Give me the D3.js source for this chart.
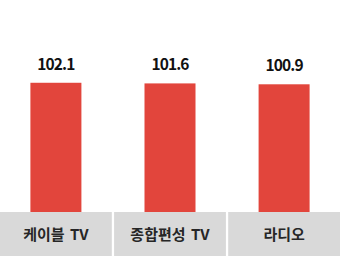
<!DOCTYPE html>
<html>
<head>
<meta charset="utf-8">
<script src="https://cdn.jsdelivr.net/npm/d3@7"></script>
<style>
  body { margin: 0; background: #fff; }
</style>
</head>
<body>
<svg id="chart" width="341" height="259"></svg>
<script>
const categories = ['케이블 TV', '종합편성 TV', '라디오']
const values = [102.1, 101.6, 100.9]

const width = 341
const height = 259
const baseY = 212 // bar baseline / top of the category boxes
const boxHeight = 44

const svg = d3.select('#chart')

// band scale for the category boxes (2px gap between boxes)
const x = d3.scaleBand()
  .domain(categories)
  .range([0, 340])
  .paddingInner(0.02)

const y = d3.scaleLinear()
  .domain([0, 167.5])
  .range([baseY, 0])

const fontFamily = '"Noto Sans CJK KR", "Noto Sans", sans-serif'

// category boxes
svg.append('g')
  .selectAll('rect')
  .data(categories)
  .join('rect')
  .attr('x', (d) => x(d))
  .attr('y', baseY)
  .attr('width', x.bandwidth())
  .attr('height', boxHeight)
  .attr('fill', '#d9d9d9')

svg.append('g')
  .selectAll('text')
  .data(categories)
  .join('text')
  .attr('x', (d) => x(d) + x.bandwidth() / 2)
  .attr('y', baseY + boxHeight / 2 + 5.5)
  .attr('text-anchor', 'middle')
  .attr('font-family', fontFamily)
  .attr('font-size', 15)
  .attr('font-weight', 'bold')
  .attr('word-spacing', 2)
  .attr('fill', '#262626')
  .text((d) => d)

// bars
const barWidth = 51
svg.append('g')
  .selectAll('rect')
  .data(values)
  .join('rect')
  .attr('x', (d, i) => x(categories[i]) + x.bandwidth() / 2 - barWidth / 2)
  .attr('y', (d) => y(d))
  .attr('width', barWidth)
  .attr('height', (d) => baseY - y(d))
  .attr('fill', '#e2453c')

// value labels
svg.append('g')
  .selectAll('text')
  .data(values)
  .join('text')
  .attr('x', (d, i) => x(categories[i]) + x.bandwidth() / 2)
  .attr('y', (d) => y(d) - 13)
  .attr('text-anchor', 'middle')
  .attr('font-family', fontFamily)
  .attr('font-size', 15.5)
  .attr('font-weight', 'bold')
  .attr('letter-spacing', -0.9)
  .attr('fill', '#111')
  .text((d) => d.toFixed(1))
</script>
</body>
</html>
